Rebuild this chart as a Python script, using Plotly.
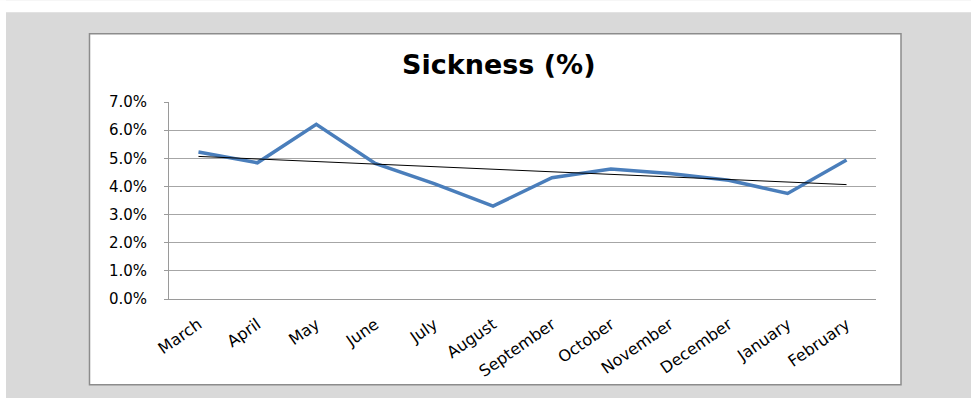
import numpy as np
import plotly.graph_objects as go

months = ["March", "April", "May", "June", "July", "August", "September",
          "October", "November", "December", "January", "February"]
sickness = [0.0522, 0.0484, 0.0621, 0.0482, 0.0410, 0.0330, 0.0431,
            0.0462, 0.0446, 0.0422, 0.0375, 0.0494]
y_ticks = [0.0, 0.01, 0.02, 0.03, 0.04, 0.05, 0.06, 0.07]
title_text = "Sickness (%)"

W, H = 971, 398
L, R, T, B = 169, 876, 101.7, 298.7

def px(xp):
    return (xp - L) / (R - L)

def py(yp):
    return (B - yp) / (B - T)

idx = np.arange(len(sickness))
slope, intercept = np.polyfit(idx, sickness, 1)
trend = intercept + slope * idx

fig = go.Figure()
fig.add_trace(go.Scatter(x=months, y=sickness, mode="lines",
                         line=dict(color="#4a7ebb", width=3.5),
                         showlegend=False, hoverinfo="skip"))
fig.add_trace(go.Scatter(x=[months[0], months[-1]], y=[trend[0], trend[-1]],
                         mode="lines", line=dict(color="#000000", width=1),
                         showlegend=False, hoverinfo="skip"))

shapes = [
    # white strips (top and left)
    dict(type="rect", xref="paper", yref="paper", x0=px(0), x1=px(W), y0=py(12), y1=py(0),
         fillcolor="white", line=dict(width=0), layer="below"),
    dict(type="rect", xref="paper", yref="paper", x0=px(0), x1=px(6), y0=py(H), y1=py(0),
         fillcolor="white", line=dict(width=0), layer="below"),
    # chart box
    dict(type="rect", xref="paper", yref="paper", x0=px(89.5), x1=px(901), y0=py(384.5), y1=py(33.5),
         fillcolor="white", line=dict(color="#8c8c8c", width=1.5), layer="below"),
]

fig.update_layout(
    width=W, height=H,
    margin=dict(l=L, r=W - R, t=T, b=H - B, pad=0),
    paper_bgcolor="#d9d9d9",
    plot_bgcolor="white",
    shapes=shapes,
    font=dict(family="DejaVu Sans", color="#000000"),
    annotations=[dict(text="<b>" + title_text + "</b>", xref="paper", yref="paper",
                      x=px(498), y=py(64), xanchor="center", yanchor="middle",
                      showarrow=False, font=dict(size=27, family="DejaVu Sans", color="#000"))],
    xaxis=dict(type="category", categoryorder="array", categoryarray=months,
               range=[-0.5, len(months) - 0.5],
               showgrid=False, showline=True, linecolor="#9a9a9a", linewidth=1,
               ticks="", tickangle=-35, tickfont=dict(size=16, family="DejaVu Sans"),
               ticklabelstandoff=9, zeroline=False),
    yaxis=dict(range=[0, 0.07], tickvals=y_ticks, tickformat=".1%",
               showgrid=True, gridcolor="#a6a6a6", gridwidth=1,
               showline=True, linecolor="#9a9a9a", linewidth=1,
               ticks="outside", ticklen=4, tickcolor="#9a9a9a",
               tickfont=dict(size=15, family="DejaVu Sans"),
               ticklabelstandoff=14, zeroline=False),
)

fig.write_html("out.html")
